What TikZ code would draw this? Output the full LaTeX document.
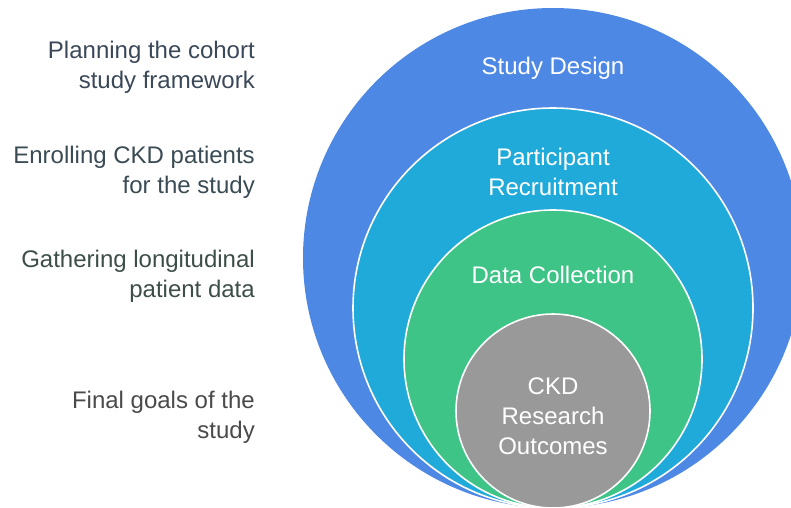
\documentclass[tikz,border=0pt]{standalone}
\usepackage{fontspec}
\setmainfont{Liberation Sans}
\definecolor{cA}{HTML}{4E88E5}
\definecolor{cB}{HTML}{20AADA}
\definecolor{cC}{HTML}{3EC486}
\definecolor{cD}{HTML}{999999}
\definecolor{tA}{HTML}{3B4858}
\definecolor{tB}{HTML}{3A4B54}
\definecolor{tC}{HTML}{3D4E48}
\definecolor{tD}{HTML}{4A4A4A}
\begin{document}
\begin{tikzpicture}[x=1pt,y=-1pt,
  ring/.style={circle, draw=white, line width=1.6pt, inner sep=0pt},
  inlbl/.style={text=white, align=center, font=\fontsize{24}{30}\selectfont},
  side/.style={align=right, anchor=east, inner sep=0pt, font=\fontsize{24}{30}\selectfont}]
\useasboundingbox (0,0) rectangle (791,507);
\begin{scope}
\clip (0,0) rectangle (791,507);
\node[circle, fill=cA, inner sep=0pt, minimum size=500pt] (c1) at (553,258) {};
\node[ring, fill=cB, minimum size=400pt] (c2) at (553,308) {};
\node[ring, fill=cC, minimum size=298pt] (c3) at (553,359) {};
\node[ring, fill=cD, minimum size=194pt] (c4) at (553,411) {};
\end{scope}
\node[inlbl] (l1) at (553,68) {Study Design};
\node[inlbl] (l2) at (553,172) {Participant\\Recruitment};
\node[inlbl] (l3) at (553,275) {Data Collection};
\node[inlbl] (l4) at (553,416) {CKD\\Research\\Outcomes};
\node[side, text=tA] (s1) at (255,67) {Planning the cohort\\study framework};
\node[side, text=tB] (s2) at (255,172) {Enrolling CKD patients\\for the study};
\node[side, text=tC] (s3) at (255,276) {Gathering longitudinal\\patient data};
\node[side, text=tD] (s4) at (255,417) {Final goals of the\\study};
\end{tikzpicture}
\end{document}
